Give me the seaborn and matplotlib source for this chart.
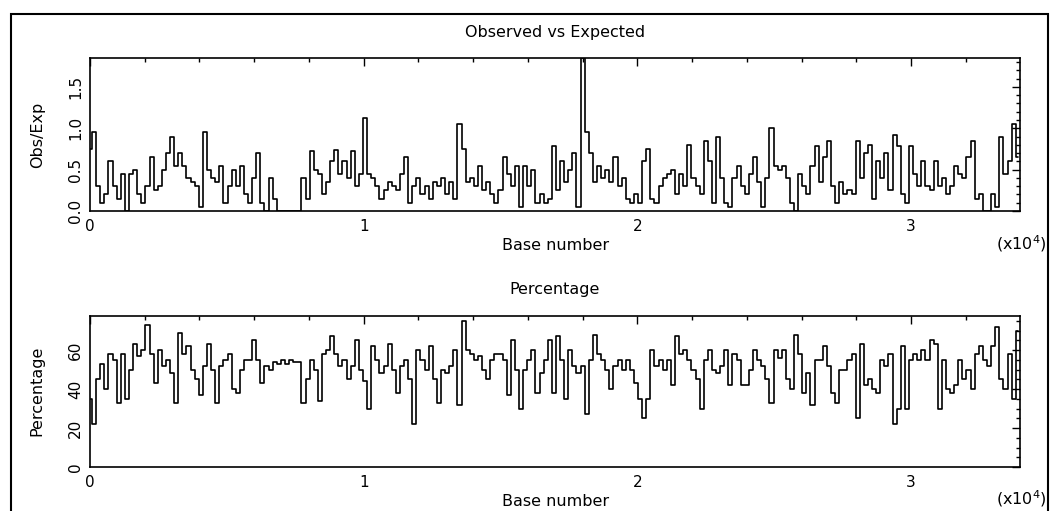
import numpy as np
import pandas as pd
import seaborn as sns
import matplotlib.pyplot as plt
from matplotlib.ticker import MultipleLocator
from matplotlib.patches import Rectangle

# window step along the sequence (bases)
window_step = 150

# Observed / Expected CpG ratio
obs_exp = [
    0.75, 0.95, 0.3, 0.1, 0.2, 0.6, 0.3, 0.15, 0.45, 0.0,
    0.45, 0.5, 0.2, 0.1, 0.3, 0.65, 0.25, 0.3, 0.5, 0.7,
    0.9, 0.55, 0.7, 0.55, 0.4, 0.35, 0.3, 0.05, 0.95, 0.5,
    0.4, 0.35, 0.55, 0.1, 0.3, 0.5, 0.3, 0.55, 0.2, 0.1,
    0.4, 0.7, 0.1, 0.0, 0.4, 0.15, 0.0, 0.0, 0.0, 0.0,
    0.0, 0.0, 0.4, 0.15, 0.73, 0.5, 0.45, 0.2, 0.35, 0.6,
    0.74, 0.45, 0.6, 0.4, 0.72, 0.3, 0.45, 1.12, 0.45, 0.4,
    0.3, 0.15, 0.25, 0.35, 0.3, 0.25, 0.45, 0.65, 0.1, 0.3,
    0.4, 0.2, 0.3, 0.15, 0.35, 0.3, 0.4, 0.2, 0.35, 0.15,
    1.05, 0.75, 0.35, 0.4, 0.3, 0.55, 0.25, 0.35, 0.2, 0.1,
    0.25, 0.65, 0.45, 0.3, 0.55, 0.05, 0.55, 0.3, 0.5, 0.1,
    0.2, 0.1, 0.15, 0.78, 0.25, 0.6, 0.35, 0.5, 0.7, 0.05,
    1.85, 0.95, 0.7, 0.35, 0.55, 0.4, 0.5, 0.35, 0.65, 0.3,
    0.4, 0.15, 0.1, 0.2, 0.1, 0.6, 0.75, 0.15, 0.1, 0.3,
    0.4, 0.45, 0.5, 0.2, 0.45, 0.3, 0.8, 0.4, 0.3, 0.2,
    0.85, 0.6, 0.1, 0.9, 0.4, 0.1, 0.05, 0.4, 0.55, 0.3,
    0.2, 0.45, 0.65, 0.35, 0.05, 0.4, 1.0, 0.55, 0.5, 0.55,
    0.4, 0.1, 0.0, 0.45, 0.3, 0.2, 0.55, 0.78, 0.35, 0.65,
    0.85, 0.3, 0.1, 0.35, 0.2, 0.25, 0.2, 0.85, 0.4, 0.7,
    0.8, 0.15, 0.6, 0.4, 0.7, 0.25, 0.92, 0.78, 0.2, 0.1,
    0.78, 0.45, 0.3, 0.6, 0.3, 0.25, 0.6, 0.3, 0.4, 0.2,
    0.3, 0.55, 0.45, 0.4, 0.65, 0.85, 0.15, 0.2, 0.0, 0.0,
    0.2, 0.05, 0.9, 0.45, 0.6, 1.05, 0.65,
]

# GC percentage
percentage = [
    35, 22, 45, 53, 40, 58, 55, 33, 58, 35,
    50, 63, 57, 60, 73, 58, 43, 60, 52, 55,
    48, 33, 69, 58, 62, 50, 45, 37, 52, 63,
    50, 33, 52, 55, 58, 40, 38, 50, 55, 55,
    65, 55, 43, 52, 50, 54, 53, 55, 53, 55,
    54, 54, 33, 45, 55, 50, 34, 58, 60, 67,
    58, 52, 55, 45, 52, 65, 50, 44, 30, 62,
    55, 48, 52, 63, 50, 38, 52, 55, 45, 22,
    60, 55, 50, 62, 45, 33, 50, 48, 52, 60,
    32, 75, 60, 58, 55, 57, 50, 45, 55, 58,
    58, 55, 37, 65, 50, 30, 50, 55, 60, 38,
    48, 55, 65, 38, 67, 55, 35, 60, 52, 48,
    52, 27, 55, 68, 58, 55, 50, 40, 52, 55,
    50, 55, 50, 43, 35, 25, 35, 60, 52, 55,
    50, 55, 42, 67, 58, 60, 55, 50, 45, 30,
    55, 60, 50, 48, 52, 60, 42, 58, 55, 42,
    42, 50, 60, 55, 52, 45, 33, 60, 56, 60,
    45, 40, 68, 58, 38, 48, 32, 55, 55, 62,
    52, 38, 33, 50, 50, 55, 58, 25, 63, 42,
    45, 40, 38, 55, 52, 58, 22, 30, 62, 30,
    55, 58, 55, 60, 55, 65, 63, 30, 55, 40,
    38, 42, 55, 45, 50, 40, 58, 62, 55, 52,
    62, 72, 45, 40, 58, 35, 70,
]

x_major = [0, 10000, 20000, 30000]
x_major_labels = ["0", "1", "2", "3"]

df = pd.DataFrame({
    "base": np.arange(len(obs_exp)) * window_step,
    "obs_exp": obs_exp,
    "percentage": percentage,
})

sns.set_style("white")
plt.rcParams["font.family"] = ["DejaVu Sans"]
plt.rcParams["text.color"] = "black"
plt.rcParams["xtick.color"] = "black"
plt.rcParams["ytick.color"] = "black"

W, H = 1050, 511
fig = plt.figure(figsize=(W / 100, H / 100), dpi=100)


def px(x, y):
    return x / W, 1 - y / H


ax1 = fig.add_axes([90 / W, 1 - 211 / H, 930 / W, 153 / H])
ax2 = fig.add_axes([90 / W, 1 - 467 / H, 930 / W, 151 / H])

sns.lineplot(data=df, x="base", y="obs_exp", ax=ax1, color="black",
             lw=1.2, drawstyle="steps-mid", estimator=None)
sns.lineplot(data=df, x="base", y="percentage", ax=ax2, color="black",
             lw=1.2, drawstyle="steps-mid", estimator=None)

ax1.set_ylim(0, 1.85)
ax1.yaxis.set_minor_locator(MultipleLocator(0.1))
ax2.set_ylim(0, 77.5)
ax2.yaxis.set_minor_locator(MultipleLocator(5))

for ax in (ax1, ax2):
    ax.set_xlim(0, 33980)
    ax.set_xticks(x_major)
    ax.set_xticklabels(x_major_labels)
    ax.xaxis.set_minor_locator(MultipleLocator(2000))
    ax.set_xlabel("")
    ax.set_ylabel("")
    ax.tick_params(which="both", direction="in", top=True, right=True,
                   width=1.0, colors="black", labelcolor="black", labelsize=11)
    ax.tick_params(which="major", length=6)
    ax.tick_params(which="minor", length=3)
    ax.tick_params(axis="x", pad=6)
    ax.tick_params(axis="y", labelrotation=90, pad=5)
    for s in ax.spines.values():
        s.set_color("black")
        s.set_linewidth(1.2)

ax1.set_yticks([0, 0.5, 1.0, 1.5])
ax1.set_yticklabels(["0.0", "0.5", "1.0", "1.5"], va="center")
ax2.set_yticks([0, 20, 40, 60])
ax2.set_yticklabels(["0", "20", "40", "60"], va="center")

fs = 11.5
fig.text(*px(555, 32), "Observed vs Expected", ha="center", va="center", fontsize=fs)
fig.text(*px(555, 289), "Percentage", ha="center", va="center", fontsize=fs)
fig.text(*px(556, 245), "Base number", ha="center", va="center", fontsize=fs)
fig.text(*px(556, 501), "Base number", ha="center", va="center", fontsize=fs)
fig.text(*px(38, 135), "Obs/Exp", ha="center", va="center", rotation=90, fontsize=fs)
fig.text(*px(37, 391), "Percentage", ha="center", va="center", rotation=90, fontsize=fs)
fig.text(*px(1021, 244), r"(x10$^{4}$)", ha="center", va="center", fontsize=fs)
fig.text(*px(1021, 499), r"(x10$^{4}$)", ha="center", va="center", fontsize=fs)

# outer frame of the picture
fig.patches.append(Rectangle(px(11, 530), 1037 / W, 516 / H, transform=fig.transFigure,
                             fill=False, edgecolor="black", lw=1.5))

fig.savefig("out.png", dpi=100)
